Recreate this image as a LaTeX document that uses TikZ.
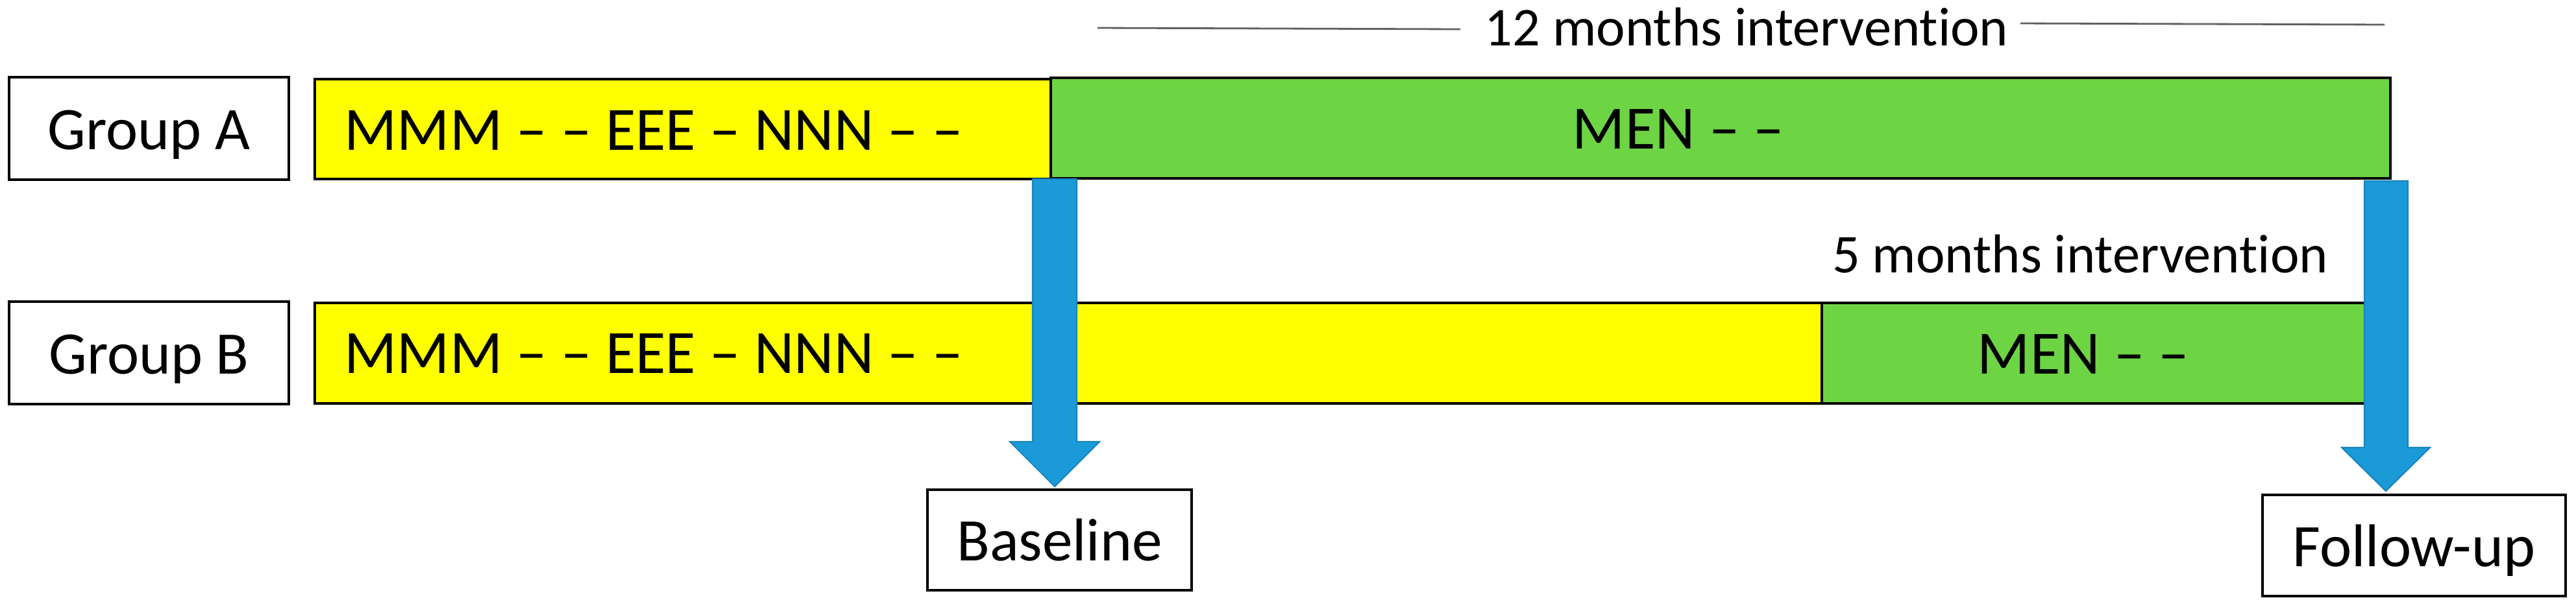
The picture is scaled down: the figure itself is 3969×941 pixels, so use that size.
\documentclass[tikz,border=0pt]{standalone}
\usepackage{fontspec}
\setmainfont{Carlito}[Ligatures={NoCommon}]
\definecolor{ybar}{HTML}{FFFF00}
\definecolor{gbar}{HTML}{6DD444}
\definecolor{arrowblue}{HTML}{1A9AD6}
\definecolor{arrowedge}{HTML}{1784BD}
\definecolor{spanline}{HTML}{606060}
\begin{document}
\begin{tikzpicture}[x=0.01cm,y=-0.01cm,
  labelbox/.style={draw=black, line width=1.2pt, fill=white, inner sep=0pt, text height=0.64cm, text depth=0pt, font=\fontsize{26.5}{30}\selectfont},
  barbox/.style={draw=black, line width=1.2pt, inner sep=0pt},
  bartext/.style={font=\fontsize{27}{30}\selectfont, inner sep=0pt},
  spantext/.style={font=\fontsize{24}{28}\selectfont, inner sep=0pt},
  blockarrow/.style={fill=arrowblue, draw=arrowedge, line width=0.6pt},
  spanrule/.style={draw=spanline, line width=0.8pt}]
\useasboundingbox (0,0) rectangle (3969,941);
% bars
\draw[barbox, fill=ybar] (485,122) rectangle (1619,276);
\draw[barbox, fill=gbar] (1619,120) rectangle (3683,275);
\draw[barbox, fill=ybar] (485,467) rectangle (2807,622);
\draw[barbox, fill=gbar] (2807,467) rectangle (3660,622);
\coordinate (yA) at (485,231);
\coordinate (yB) at (485,575);
\node[bartext, anchor=base west] (tA) at ([xshift=0.45cm]yA) {MMM – – EEE – NNN – –};
\node[bartext, anchor=base west] (tB) at ([xshift=0.45cm]yB) {MMM – – EEE – NNN – –};
\node[bartext, anchor=base] (mA) at (2586,229) {MEN – –};
\node[bartext, anchor=base] (mB) at (3210,576) {MEN – –};
% group labels
\node[labelbox, minimum width=4.31cm, minimum height=1.58cm] (gA) at (229.5,198) {Group A};
\node[labelbox, minimum width=4.31cm, minimum height=1.58cm] (gB) at (229.5,544) {Group B};
% time point boxes
\node[labelbox, minimum width=4.07cm, minimum height=1.55cm] (base) at (1632.5,832.5) {Baseline};
\node[labelbox, minimum width=4.67cm, minimum height=1.56cm] (fu) at (3719.5,841) {Follow-up};
% block arrows
\draw[blockarrow] (1591,276) -- (1659,276) -- (1659,681) -- (1694,681) -- (1625,750) -- (1556,681) -- (1591,681) -- cycle;
\draw[blockarrow] (3643,279) -- (3710,279) -- (3710,690) -- (3744,690) -- (3676,757) -- (3608,690) -- (3643,690) -- cycle;
% span labels
\node[spantext, anchor=base] (s12) at (2691,70) {12 months intervention};
\node[spantext, anchor=base] (s5) at (3205,420) {5 months intervention};
\coordinate (l1) at (1691,43);
\coordinate (l2) at (2250,45);
\coordinate (r1) at (3113,36);
\coordinate (r2) at (3674,38);
\draw[spanrule] (l1) -- (l2);
\draw[spanrule] (r1) -- (r2);
\end{tikzpicture}
\end{document}
